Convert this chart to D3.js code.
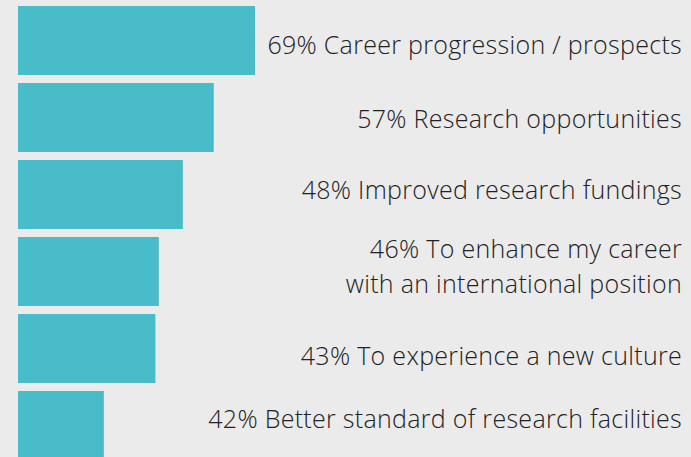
<!DOCTYPE html>
<html>
<head>
<meta charset="utf-8">
<script src="https://cdn.jsdelivr.net/npm/d3@7"></script>
<style>
  html, body { margin: 0; padding: 0; background: #ebebeb; }
  svg { display: block; }
  .label { font-family: "Open Sans", "Noto Sans", sans-serif; font-weight: 300; font-size: 25px; letter-spacing: 0.3px; fill: #222; }
</style>
</head>
<body>
<svg id="chart" width="691" height="457"></svg>
<script>
// survey answers, top to bottom
const percents = [69, 57, 48, 46, 43, 42];
const categories = [
    ["Career progression / prospects"],
    ["Research opportunities"],
    ["Improved research fundings"],
    ["To enhance my career", "with an international position"],
    ["To experience a new culture"],
    ["Better standard of research facilities"]
];
// bar lengths as drawn in the picture (they don't follow the percentages exactly)
const barValues = [69, 57, 48, 41, 40, 25];

// small vertical tweaks so labels sit where the original has them
const labelNudge = [4.5, 1, -4.5, -5, 7, -6.5];

const width = 691, height = 457;
const svg = d3.select("#chart");

const x = d3.scaleLinear()
    .domain([0, 69])
    .range([18, 255]);

const y = d3.scaleBand()
    .domain(d3.range(percents.length))
    .range([6, 460])
    .paddingInner(8 / 77)
    .paddingOuter(0);

svg.append("rect")
    .attr("width", width)
    .attr("height", height)
    .attr("fill", "#ebebeb");

svg.selectAll("rect.bar")
    .data(barValues)
    .enter()
    .append("rect")
    .attr("class", "bar")
    .attr("x", x(0))
    .attr("y", (d, i) => y(i))
    .attr("width", d => x(d) - x(0))
    .attr("height", y.bandwidth())
    .attr("fill", "#48bdc9");

const lineHeight = 35;
const labels = svg.selectAll("text.label")
    .data(categories)
    .enter()
    .append("text")
    .attr("class", "label")
    .attr("text-anchor", "end")
    .attr("transform", (d, i) => {
        const cy = y(i) + y.bandwidth() / 2 + labelNudge[i];
        const first = cy - (d.length - 1) * lineHeight / 2 + 9;
        return `translate(682,${first})`;
    });

labels.selectAll("tspan")
    .data((d, i) => d.map((line, j) => j === 0 ? percents[i] + "% " + line : line))
    .enter()
    .append("tspan")
    .attr("x", 0)
    .attr("dy", (d, j) => j === 0 ? 0 : lineHeight)
    .text(d => d);
</script>
</body>
</html>
